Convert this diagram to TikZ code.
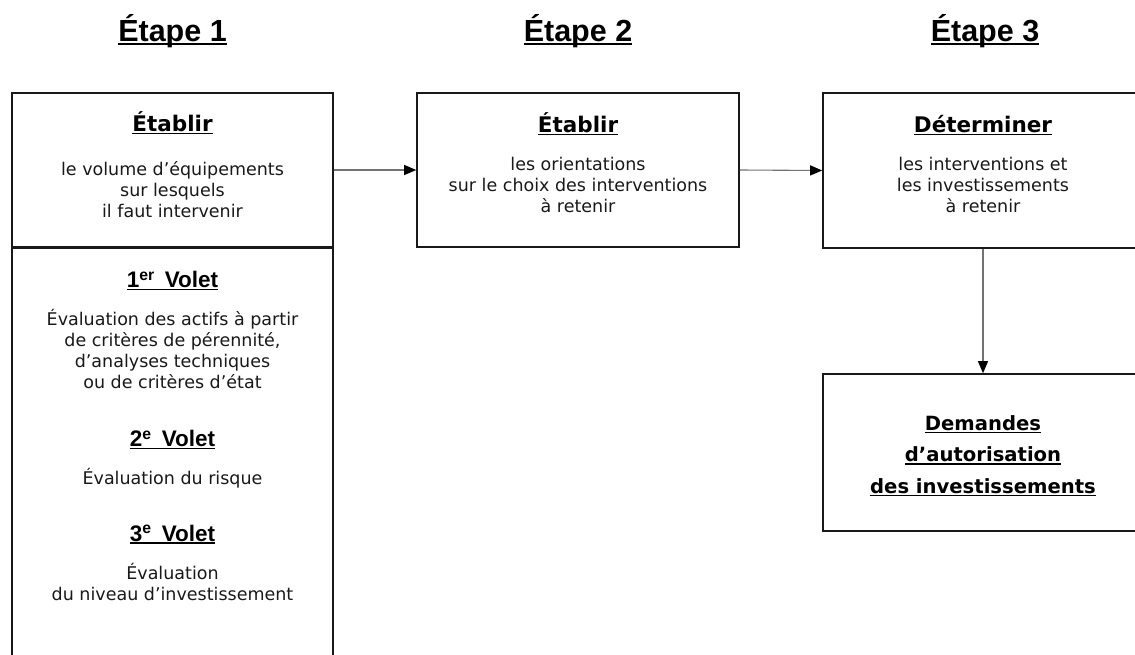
\documentclass[tikz,border=0pt]{standalone}
\usepackage{fontspec}
\setmainfont{DejaVu Sans}
\newfontfamily\headfont{Liberation Sans}
\usetikzlibrary{arrows.meta}
\newcommand\ulbox[2]{\setbox0\hbox{#2}\rlap{\rule[-#1]{\wd0}{1.4pt}}\box0}
\begin{document}
\begin{tikzpicture}[x=1pt,y=-1pt,
  box/.style={draw=black!90,line width=1.6pt,inner sep=0pt},
  conn/.style={draw=black!55,line width=1.1pt,-{Triangle[length=12pt,width=10pt,color=black]}},
  head/.style={font=\headfont\bfseries\fontsize{30.5}{36}\selectfont,anchor=base,inner sep=0pt},
  ttl/.style={font=\bfseries\fontsize{21.5}{26}\selectfont,anchor=base,inner sep=0pt},
  vol/.style={font=\headfont\bfseries\fontsize{22.5}{26}\selectfont,anchor=base,inner sep=0pt},
  body/.style={font=\fontsize{17.5}{21}\selectfont,align=center,anchor=base,inner sep=0pt,text=black!90},
  big/.style={font=\bfseries\fontsize{19.6}{31.5}\selectfont,align=center,anchor=base,inner sep=0pt}]
\useasboundingbox (0,0) rectangle (1135,655);
\clip (0,0) rectangle (1135,655);
\fill[white] (0,0) rectangle (1135,655);

% headings
\node[head] (h1) at (172.5,41.7) {\ulbox{3pt}{Étape 1}};
\node[head] (h2) at (578,41.7) {\ulbox{3pt}{Étape 2}};
\node[head] (h3) at (985,41.7) {\ulbox{3pt}{Étape 3}};

% boxes
\node[box,minimum width=321pt,minimum height=154pt] (b1top) at (172.5,170) {};
\node[box,minimum width=321pt,minimum height=460pt,anchor=north] (b1bot) at (172.5,247) {};
\node[box,minimum width=322pt,minimum height=154pt] (b2) at (578,170) {};
\node[box,minimum width=320pt,minimum height=155pt] (b3) at (983,170.5) {};
\node[box,minimum width=320pt,minimum height=157pt] (b4) at (983,452.5) {};

% connectors
\draw[conn] (b1top.east) -- (b2.west);
\draw[conn] (b2.east) -- (b3.west);
\draw[conn] (b3.south) -- (b4.north);

% box 1 top (multi-line nodes are placed by the baseline of their last line)
\node[ttl] (t1) at (172.5,131.5) {\ulbox{2.8pt}{Établir}};
\node[body] (d1) at (172.5,217.7) {le volume d’équipements\\sur lesquels\\il faut intervenir};

% box 1 bottom
\node[vol] (v1) at (172.5,287.7) {\ulbox{2.5pt}{1\textsuperscript{er}\hspace{0.45em}Volet}};
\node[body] (e1) at (172.5,388.3) {Évaluation des actifs à partir\\de critères de pérennité,\\d’analyses techniques\\ou de critères d’état};
\node[vol] (v2) at (172.5,446.7) {\ulbox{2.5pt}{2\textsuperscript{e}\hspace{0.45em}Volet}};
\node[body] (e2) at (172.5,484.3) {Évaluation du risque};
\node[vol] (v3) at (172.5,541) {\ulbox{2.5pt}{3\textsuperscript{e}\hspace{0.45em}Volet}};
\node[body] (e3) at (172.5,600) {Évaluation\\du niveau d’investissement};

% box 2
\node[ttl] (t2) at (578,132.7) {\ulbox{2.8pt}{Établir}};
\node[body] (d2) at (578,212.7) {les orientations\\sur le choix des interventions\\à retenir};

% box 3
\node[ttl] (t3) at (983,132.7) {\ulbox{2.8pt}{Déterminer}};
\node[body] (d3) at (983,212.7) {les interventions et\\les investissements\\à retenir};

% box 4
\node[big] (t4) at (983,493.3) {\ulbox{3pt}{Demandes}\\\ulbox{3pt}{d’autorisation}\\\ulbox{3pt}{des investissements}};
\end{tikzpicture}
\end{document}
